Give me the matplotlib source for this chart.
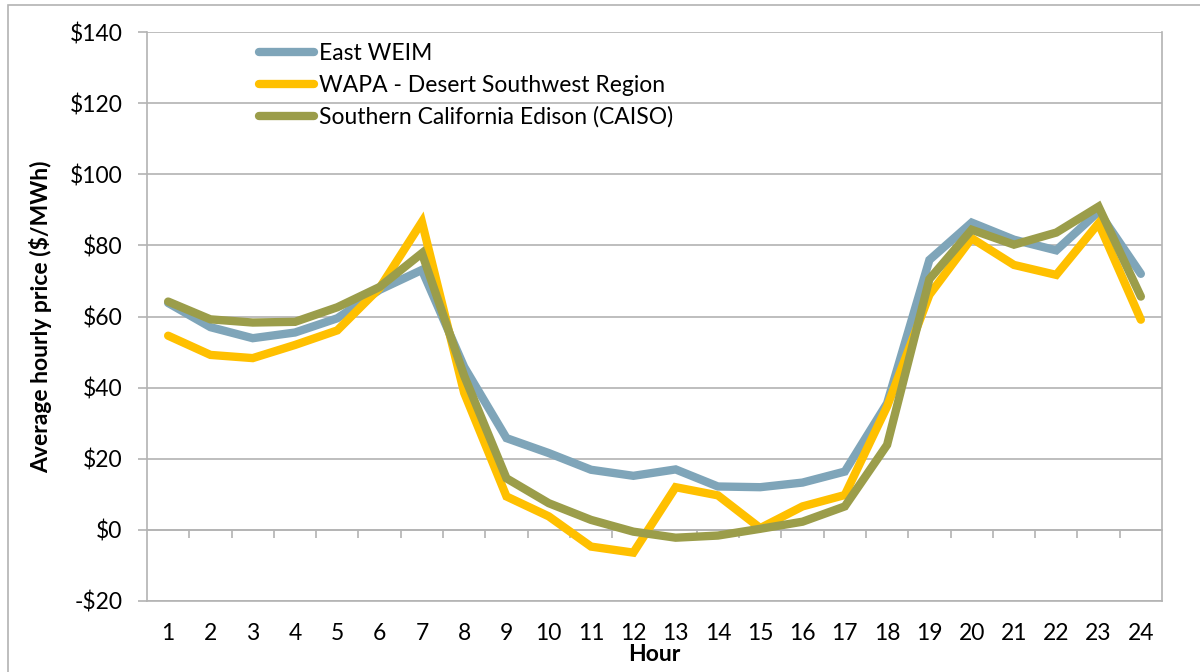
import matplotlib
matplotlib.use("Agg")
import matplotlib.pyplot as plt
from matplotlib.patches import Rectangle

plt.rcParams['font.family'] = ['Lato', 'DejaVu Sans']

hours = list(range(1, 25))
east_weim = [63.8, 57.0, 53.9, 55.5, 59.5, 67.5, 73.1, 45.8, 25.8, 21.6, 16.9, 15.2,
             17.0, 12.2, 12.0, 13.3, 16.4, 35.6, 75.9, 86.4, 81.6, 78.6, 89.5, 72.0]
wapa_dsw = [54.6, 49.2, 48.3, 52.0, 56.1, 68.0, 86.6, 38.5, 9.4, 3.8, -4.7, -6.4,
            12.0, 9.7, 0.5, 6.6, 9.8, 34.7, 66.1, 82.0, 74.5, 71.7, 86.2, 59.1]
sce_caiso = [64.2, 59.2, 58.3, 58.5, 62.6, 68.3, 77.8, 43.3, 14.5, 7.5, 2.8, -0.5,
             -2.2, -1.6, 0.3, 2.3, 6.6, 23.9, 70.5, 84.4, 80.2, 83.6, 90.9, 65.6]
series_names = ["East WEIM", "WAPA - Desert Southwest Region",
                "Southern California Edison (CAISO)"]
series_colors = ["#7FA5B9", "#FFC000", "#9B9D4A"]
y_ticks = list(range(-20, 141, 20))
y_labels = [f"-${-v}" if v < 0 else f"${v}" for v in y_ticks]

grid_c = "#B3B3B3"
fs = 16.5

fig = plt.figure(figsize=(12, 6.72), dpi=100)
ax = fig.add_axes([147 / 1200, 1 - 601 / 672, 1015 / 1200, 569 / 672])

for vals, name, col in zip([east_weim, wapa_dsw, sce_caiso], series_names, series_colors):
    ax.plot(hours, vals, color=col, lw=6, label=name, solid_capstyle='round',
            solid_joinstyle='miter')

ax.set_xlim(0.5, 24.5)
ax.set_ylim(-20, 140)
ax.set_yticks(y_ticks)
ax.set_yticklabels(y_labels)
ax.set_xticks(hours)
ax.set_xticklabels([str(h) for h in hours])
ax.yaxis.grid(True, color=grid_c, lw=1.2)
ax.set_axisbelow(True)

for s in ax.spines.values():
    s.set_color(grid_c)
    s.set_linewidth(1.2)
ax.spines['top'].set_visible(False)

ax.tick_params(axis='y', direction='out', length=6.5, width=1.2, color=grid_c,
               labelsize=fs, pad=11, labelcolor='black')
ax.tick_params(axis='x', length=0, labelsize=fs, pad=15.5, labelcolor='black')

# zero line axis with category boundary ticks
ymin, ymax = ax.get_ylim()
zax = ax.secondary_xaxis((0 - ymin) / (ymax - ymin))
zax.set_xticks([h + 0.5 for h in hours[:-1]])
zax.tick_params(axis='x', direction='out', length=6, width=1.2, color=grid_c,
                labelbottom=False, labeltop=False)
zax.spines['bottom'].set_color(grid_c)
zax.spines['bottom'].set_linewidth(1.2)

ax.set_xlabel("Hour", fontsize=fs, fontweight='bold', labelpad=0)
ax.set_ylabel("Average hourly price ($/MWh)", fontsize=fs, fontweight='bold')
ax.yaxis.set_label_coords(-0.093, 0.5)

ax.legend(loc='upper left', bbox_to_anchor=(0.11, 0.98), frameon=False,
          fontsize=fs, borderpad=0, borderaxespad=0, handlelength=2.4,
          handletextpad=0.22, labelspacing=0.46)

fig.patches.append(Rectangle((8 / 1200, -0.1), 1.2, 1 - 5 / 672 + 0.1,
                             transform=fig.transFigure, fill=False,
                             edgecolor=grid_c, lw=1.2))

fig.savefig("out.png", dpi=100)
